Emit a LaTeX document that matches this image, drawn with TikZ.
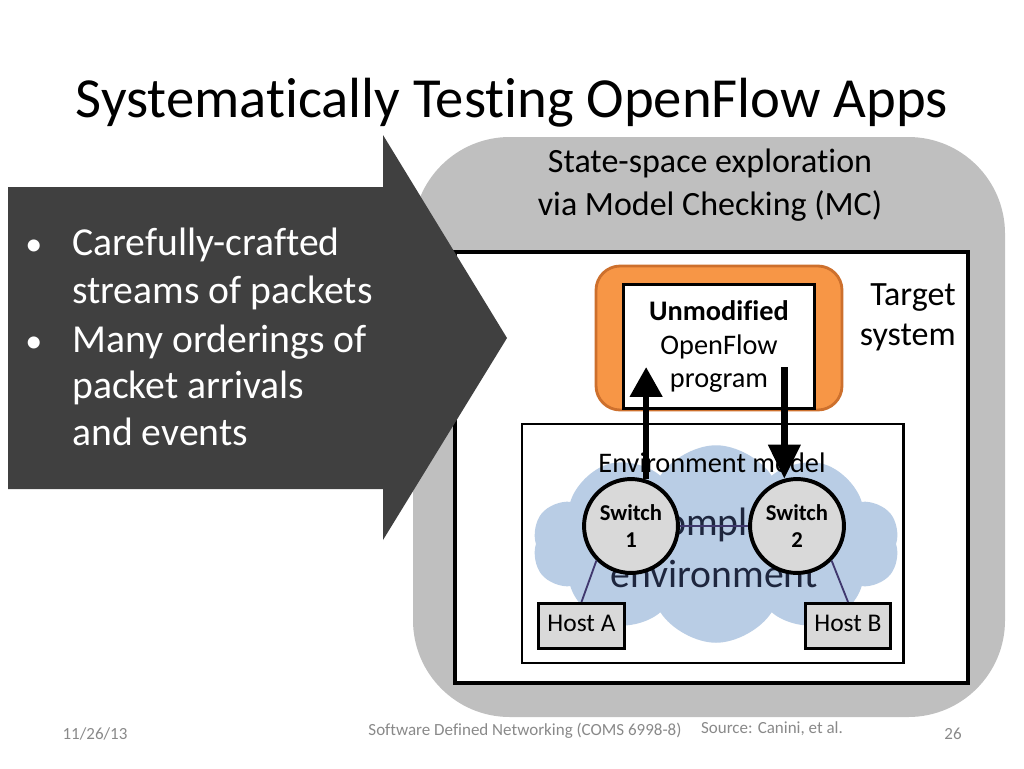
\documentclass[tikz,border=0pt]{standalone}
\usepackage{fontspec}
\setmainfont{Carlito}[Ligatures=CommonOff]
\usetikzlibrary{arrows.meta,positioning,calc,shapes.symbols}
\definecolor{panelgray}{RGB}{191,191,191}
\definecolor{arrowdark}{RGB}{64,64,64}
\definecolor{progorange}{RGB}{247,150,70}
\definecolor{orangeedge}{RGB}{205,112,45}
\definecolor{cloudblue}{RGB}{185,205,229}
\definecolor{nodegray}{RGB}{217,217,217}
\definecolor{linkpurple}{RGB}{64,56,110}
\definecolor{footgray}{RGB}{137,137,137}
\definecolor{envnavy}{RGB}{30,38,62}

\begin{document}
\begin{tikzpicture}[x=0.024805cm,y=-0.024805cm,
  switchnode/.style={circle,draw,line width=2.8pt,fill=nodegray,minimum size=2.33cm,
    inner sep=0pt,align=center,font=\fontsize{16}{19}\selectfont\bfseries},
  hostnode/.style={draw,line width=2.1pt,fill=nodegray,minimum width=2.13cm,
    minimum height=1.12cm,inner sep=0pt,text depth=0.45em,font=\fontsize{18}{22}\selectfont},
  flow/.style={line width=4.6pt,-{Triangle[length=21pt,width=22pt]}},
  link/.style={linkpurple,line width=1.3pt},
  lbl/.style={inner sep=0pt,font=\fontsize{24}{29}\selectfont},
  bul/.style={anchor=base west,inner sep=0pt,text=white,font=\fontsize{28}{34}\selectfont},
  foot/.style={anchor=base,text=footgray,font=\fontsize{12}{14}\selectfont}]
  \useasboundingbox (0,0) rectangle (1024,768);
  % ---------- title ----------
  \node[anchor=base,inner sep=0pt,font=\fontsize{40}{48}\selectfont] (title) at (512,117)
    {Systematically Testing OpenFlow Apps};
  % ---------- model checker panel ----------
  \fill[panelgray,rounded corners=2.4cm] (413,137) rectangle (1005,717);
  \node[lbl,anchor=base] (mc1) at (710,172) {State-space exploration};
  \node[lbl,anchor=base] (mc2) at (710,215) {via Model Checking (MC)};
  \draw[fill=white,line width=2.8pt] (455,252) rectangle (968,683);
  \node[lbl,anchor=base east] (tgt1) at (956,305) {Target};
  \node[lbl,anchor=base east] (tgt2) at (956,345) {system};
  % ---------- the app under test ----------
  \draw[fill=progorange,draw=orangeedge,line width=2pt,rounded corners=0.6cm]
    (596,266) rectangle (842,410);
  \node[draw,fill=white,line width=2.1pt,minimum width=4.74cm,minimum height=3.08cm,
    align=center,font=\fontsize{20}{23.5}\selectfont] (prog) at (719,346.5)
    {\textbf{Unmodified}\\OpenFlow\\program};
  % ---------- environment model ----------
  \draw[fill=white,line width=2.1pt] (522,424) rectangle (903,663);
  \node[cloud,cloud puffs=10,cloud puff arc=115,fill=cloudblue,minimum width=9.1cm,
    minimum height=4.9cm] (cloud) at (716,544) {};
  \node[anchor=base,text=envnavy,font=\fontsize{28}{34}\selectfont] (cplx1) at (714,535) {Complex};
  \node[anchor=base,text=envnavy,font=\fontsize{28}{34}\selectfont] (cplx2) at (714,587) {environment};
  \node[anchor=base,font=\fontsize{20}{24}\selectfont] (envlab) at (712,472) {Environment model};
  \node[switchnode] (sw1) at (631,526) {Switch\\1};
  \node[switchnode] (sw2) at (797,526) {Switch\\2};
  \node[hostnode] (hostA) at (581.5,626) {Host A};
  \node[hostnode] (hostB) at (848,626) {Host B};
  \draw[link] (sw1) -- (sw2);
  \draw[link] (sw1.225) -- (hostA.north);
  \draw[link] (sw2.-45) -- (hostB.north);
  \coordinate (uptip) at (646,367);
  \coordinate (downtop) at (785,367);
  \draw[flow] (sw1.72) -- (sw1.72 |- uptip);
  \draw[flow,-{Triangle[length=24pt,width=22pt]}] (sw2.105 |- downtop) -- (sw2.105);
  % ---------- big arrow with the inputs ----------
  \fill[arrowdark] (8,187) -- (383,187) -- (383,135) -- (507,338) -- (383,540)
    -- (383,489) -- (8,489) -- cycle;
  \foreach \y/\lab [count=\i] in {255/{Carefully-crafted},303/{streams of packets},
      352/{Many orderings of},398/{packet arrivals},445/{and events}}
    \node[bul] (in\i) at (72,\y) {\lab};
  \foreach \y [count=\i] in {255,352}
    \node[bul] (dot\i) at (25,\y) {\fontsize{24}{28}\selectfont •};
  % ---------- footer ----------
  \node[foot] (date) at (95,739) {11/26/13};
  \node[foot] (course) at (525,735) {Software Defined Networking (COMS 6998-8)};
  \node[foot] (src) at (772,733) {Source: Canini, et al.};
  \node[foot] (page) at (953,739) {26};
\end{tikzpicture}
\end{document}
